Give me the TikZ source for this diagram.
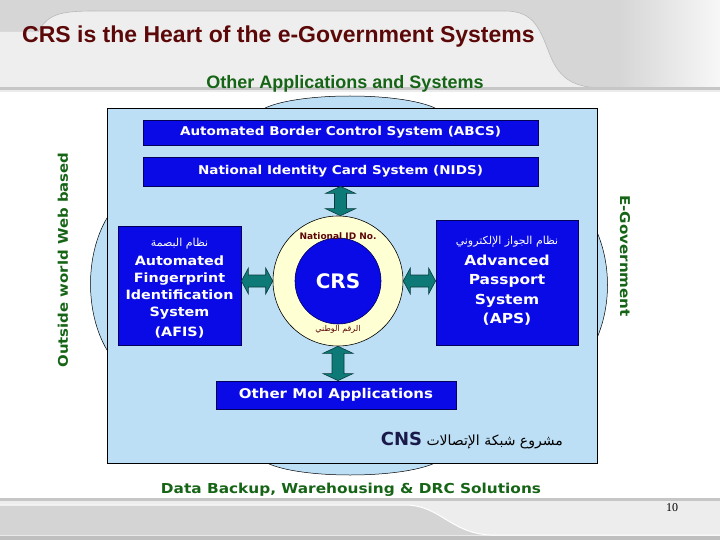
\documentclass[tikz,border=0pt]{standalone}
\usepackage{fontspec}
\setmainfont{DejaVu Sans}
\newfontfamily\widefont{DejaVu Sans}[FakeStretch=1.12]
\newfontfamily\arialfont{Liberation Sans}
\newfontfamily\arabicfont[Script=Arabic]{DejaVu Sans}
\newfontfamily\timesfont{Liberation Serif}
\TeXXeTstate=1
\usetikzlibrary{calc}
\definecolor{hdrred}{HTML}{5C0808}
\definecolor{grn}{HTML}{166416}
\definecolor{paneblue}{HTML}{BDDFF6}
\definecolor{boxblue}{HTML}{0A0AE6}
\definecolor{boxedge}{HTML}{00005A}
\definecolor{creamy}{HTML}{FFFFD4}
\definecolor{arrowteal}{HTML}{0D7A78}
\definecolor{arrowedge}{HTML}{0A3A3A}
\definecolor{cnsblue}{HTML}{1A1A4A}
\newcommand{\vdarrow}[2]{%
  \path #1 coordinate (vt) #2 coordinate (vb);
  \filldraw[fill=arrowteal,draw=arrowedge,line width=0.6pt]
    let \p1=(vt),\p2=(vb) in
    (\x1,\y1) -- (\x1+15pt,\y1-7pt) -- (\x1+6pt,\y1-7pt) -- (\x1+6pt,\y2+7pt)
    -- (\x1+15pt,\y2+7pt) -- (\x1,\y2) -- (\x1-15pt,\y2+7pt) -- (\x1-6pt,\y2+7pt)
    -- (\x1-6pt,\y1-7pt) -- (\x1-15pt,\y1-7pt) -- cycle;}
\newcommand{\hdarrow}[2]{%
  \path #1 coordinate (hl) #2 coordinate (hr);
  \filldraw[fill=arrowteal,draw=arrowedge,line width=0.6pt]
    let \p1=(hl),\p2=(hr) in
    (\x1,\y1) -- (\x1+7pt,\y1+13pt) -- (\x1+7pt,\y1+6pt) -- (\x2-7pt,\y1+6pt)
    -- (\x2-7pt,\y1+13pt) -- (\x2,\y1) -- (\x2-7pt,\y1-13pt) -- (\x2-7pt,\y1-6pt)
    -- (\x1+7pt,\y1-6pt) -- (\x1+7pt,\y1-13pt) -- cycle;}
\tikzset{
  bluebox/.style={draw=boxedge,fill=boxblue,line width=0.8pt,text=white,
    inner sep=0pt,align=center},
  greentext/.style={text=grn,inner sep=0pt},
}
\begin{document}
\begin{tikzpicture}[x=1pt,y=-1pt]
\useasboundingbox (0,0) rectangle (720,540);
\fill[white] (0,0) rectangle (720,540);
% header
\fill[gray!32] (0,0) rectangle (720,88);
\shade[left color=gray!32,right color=gray!6] (620,0) rectangle (720,88);
\fill[gray!13] (0,32) -- (38,32) .. controls (48,14) and (60,11) .. (95,11) -- (505,11)
  .. controls (535,11) and (540,30) .. (550,55) .. controls (560,80) and (575,88) .. (605,88)
  -- (0,88) -- cycle;
\draw[gray!55,line width=0.6pt] (38,32) .. controls (48,14) and (60,11) .. (95,11) -- (505,11)
  .. controls (535,11) and (540,30) .. (550,55) .. controls (560,80) and (575,88) .. (605,88);
\fill[gray!45] (0,87) rectangle (720,90);
\fill[gray!15] (0,90) rectangle (720,92);
\node[anchor=west,text=hdrred,font=\arialfont\fontsize{23}{26}\selectfont\bfseries,inner sep=0pt]
  (title) at (22,37) {CRS is the Heart of the e-Government Systems};
% footer
\fill[gray!45] (0,498) rectangle (720,501);
\fill[gray!14] (0,501) rectangle (720,540);
\fill[gray!34] (0,505) -- (405,505)
  .. controls (440,505) and (450,533) .. (490,535) -- (0,535) -- cycle;
\draw[white,line width=1pt] (0,505) -- (405,505)
  .. controls (440,505) and (450,533) .. (490,535) -- (720,535);
\fill[gray!50] (0,536) rectangle (720,540);
\node[font=\timesfont\fontsize{12}{14}\selectfont,inner sep=0pt] (pagenum) at (672,508) {10};
% pane
\fill[paneblue] (265,108) .. controls (300,92) and (400,92) .. (435,108) -- cycle;
\fill[paneblue] (267,463) .. controls (300,479) and (400,479) .. (435,463) -- cycle;
\fill[paneblue] (107,218) .. controls (85,255) and (85,313) .. (107,350) -- cycle;
\fill[paneblue] (597,232) .. controls (611,265) and (611,305) .. (597,338) -- cycle;
\draw[black,line width=0.5pt] (265,108) .. controls (300,92) and (400,92) .. (435,108);
\draw[black,line width=0.5pt] (267,463) .. controls (300,479) and (400,479) .. (435,463);
\draw[black,line width=0.5pt] (107,218) .. controls (85,255) and (85,313) .. (107,350);
\draw[black,line width=0.5pt] (597,232) .. controls (611,265) and (611,305) .. (597,338);
\filldraw[fill=paneblue,draw=black,line width=0.6pt] (107,108) rectangle (597,463);
% labels outside
\node[greentext,font=\arialfont\fontsize{18}{21}\selectfont\bfseries] (otherapps) at (345,84) {Other Applications and Systems};
\node[greentext,font=\widefont\fontsize{13.7}{16}\selectfont\bfseries] (backup) at (351,490) {Data Backup, Warehousing \& DRC Solutions};
\node[greentext,rotate=90,font=\widefont\fontsize{13.3}{16}\selectfont\bfseries] (outside) at (63,260) {Outside world Web based};
\node[greentext,rotate=-90,font=\widefont\fontsize{13.5}{16}\selectfont\bfseries] (egov) at (625,256) {E-Government};
% boxes
\node[bluebox,minimum width=395,minimum height=25,font=\widefont\fontsize{12.1}{15}\selectfont\bfseries] (abcs) at (340.5,132.5) {Automated Border Control System (ABCS)};
\node[bluebox,minimum width=395,minimum height=29,font=\widefont\fontsize{12.1}{15}\selectfont\bfseries] (nids) at (340.5,171.5) {National Identity Card System (NIDS)};
\node[bluebox,minimum width=123,minimum height=119] (afis) at (179.5,285.5) {};
\node[bluebox,minimum width=142,minimum height=125] (aps) at (507,282.5) {};
\node[bluebox,minimum width=240,minimum height=28,font=\widefont\fontsize{13.4}{16}\selectfont\bfseries] (moi) at (336,395) {Other MoI Applications};
\node[circle,draw=black,fill=creamy,line width=0.6pt,minimum size=130,inner sep=0pt] (outer) at (338,281) {};
\node[circle,draw=boxedge,fill=boxblue,line width=0.6pt,minimum size=86,inner sep=0pt,text=white,
  font=\fontsize{20}{24}\selectfont\bfseries] (crs) at (338,281) {CRS};
\node[text=hdrred,font=\fontsize{9}{11}\selectfont\bfseries,inner sep=0pt] (natid) at (338,236) {National ID No.};
\node[text=hdrred,font=\arabicfont\fontsize{8}{10}\selectfont,inner sep=0pt] (natidar) at (338,329) {\beginR الرقم الوطني\endR};
% box texts
\node[text=white,align=center,inner sep=0pt,font=\widefont\fontsize{12.8}{17}\selectfont\bfseries] (afistext) at (179.5,288)
  {{\arabicfont\mdseries\fontsize{11}{14}\selectfont\beginR نظام البصمة\endR}\\[2pt]Automated\\Fingerprint\\Identification\\System\\[3pt](AFIS)};
\node[text=white,align=center,inner sep=0pt,font=\widefont\fontsize{13.8}{19.5}\selectfont\bfseries] (apstext) at (507,281)
  {{\arabicfont\mdseries\fontsize{11}{14}\selectfont\beginR نظام الجواز الإلكتروني\endR}\\[1pt]Advanced\\Passport\\System\\(APS)};
% CNS
\node[anchor=east,inner sep=0pt] (cns) at (563,441)
  {\arabicfont\fontsize{14}{16}\selectfont\beginR مشروع شبكة الإتصالات \beginL{\color{cnsblue}\fontspec{DejaVu Sans}\bfseries\fontsize{18}{20}\selectfont CNS}\endL\endR};
% arrows
\vdarrow{(nids.south)}{(outer.north)}
\vdarrow{(outer.south)}{(moi.north)}
\hdarrow{(afis.east |- outer.center)}{(outer.west)}
\hdarrow{(outer.east)}{(aps.west |- outer.center)}
\end{tikzpicture}
\end{document}
